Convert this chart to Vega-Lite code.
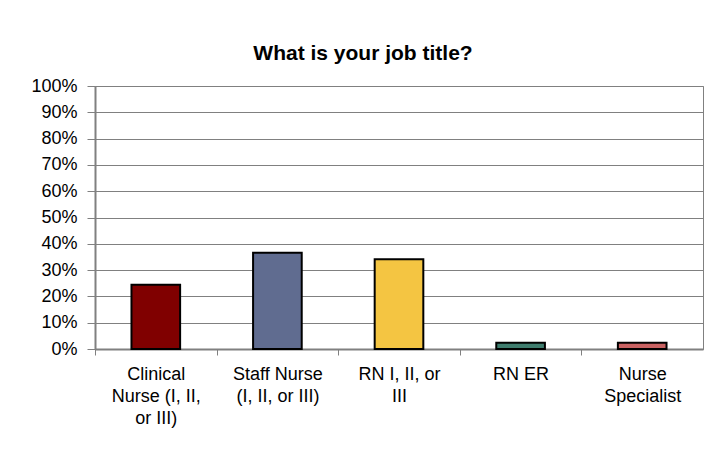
{
  "$schema": "https://vega.github.io/schema/vega-lite/v6.json",
  "width": 608,
  "height": 263,
  "autosize": {"type": "none"},
  "padding": {"left": 95, "top": 86, "right": 1, "bottom": 109},
  "background": "white",
  "title": {
    "text": "What is your job title?",
    "font": "Liberation Sans",
    "fontSize": 21,
    "fontWeight": "bold",
    "color": "black",
    "anchor": "middle",
    "frame": "group",
    "baseline": "alphabetic",
    "dx": -36,
    "dy": 24,
    "offset": 20
  },
  "data": {
    "values": [
      {"title": "Clinical Nurse (I, II, or III)", "share": 0.244},
      {"title": "Staff Nurse (I, II, or III)", "share": 0.366},
      {"title": "RN I, II, or III", "share": 0.341},
      {"title": "RN ER", "share": 0.024},
      {"title": "Nurse Specialist", "share": 0.024}
    ]
  },
  "mark": {"type": "bar", "stroke": "black", "strokeWidth": 2},
  "encoding": {
    "x": {
      "field": "title",
      "type": "nominal",
      "sort": null,
      "scale": {"paddingInner": 0.6, "paddingOuter": 0.3},
      "axis": {
        "title": null,
        "labelAngle": 0,
        "labelFont": "Liberation Sans",
        "labelFontSize": 18,
        "labelColor": "black",
        "labelLineHeight": 22,
        "labelBaseline": "top",
        "labelPadding": 10,
        "labelLimit": 0,
        "tickSize": 6,
        "tickColor": "#808080",
        "tickWidth": 1,
        "tickOffset": -60.8,
        "labelOffset": 60.8,
        "domainColor": "#808080",
        "domainWidth": 2,
        "grid": false,
        "labelExpr": "datum.value == 'Clinical Nurse (I, II, or III)' ? ['Clinical', 'Nurse (I, II,', 'or III)'] : datum.value == 'Staff Nurse (I, II, or III)' ? ['Staff Nurse', '(I, II, or III)'] : datum.value == 'RN I, II, or III' ? ['RN I, II, or', 'III'] : datum.value == 'Nurse Specialist' ? ['Nurse', 'Specialist'] : datum.value"
      }
    },
    "y": {
      "field": "share",
      "type": "quantitative",
      "scale": {"domain": [0, 1], "nice": false},
      "axis": {
        "title": null,
        "format": ".0%",
        "values": [0, 0.1, 0.2, 0.3, 0.4, 0.5, 0.6, 0.7, 0.8, 0.9, 1],
        "labelFont": "Liberation Sans",
        "labelFontSize": 18,
        "labelColor": "black",
        "labelPadding": 10,
        "tickSize": 8,
        "tickColor": "#808080",
        "domainColor": "#808080",
        "domainWidth": 2,
        "gridColor": "#808080",
        "gridWidth": 1
      }
    },
    "color": {
      "field": "title",
      "type": "nominal",
      "sort": null,
      "scale": {
        "domain": ["Clinical Nurse (I, II, or III)", "Staff Nurse (I, II, or III)", "RN I, II, or III", "RN ER", "Nurse Specialist"],
        "range": ["#800000", "#606C90", "#F4C542", "#3F7D6E", "#C96262"]
      },
      "legend": null
    }
  },
  "config": {
    "view": {"stroke": "#808080", "strokeWidth": 1}
  }
}
